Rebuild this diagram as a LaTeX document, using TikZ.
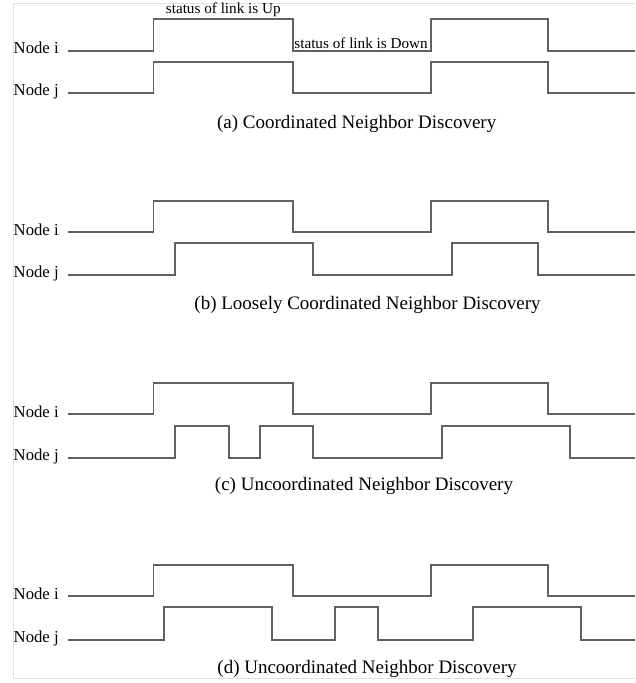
\documentclass[tikz,border=0pt]{standalone}
\usepackage{fontspec}
\setmainfont{Liberation Serif}
\begin{document}
\begin{tikzpicture}[x=1pt,y=-1pt,
  signal/.style={draw=black!62, line width=1.7pt, line join=miter},
  frameline/.style={draw=black!12, line width=1pt},
  nodelabel/.style={anchor=base west, inner sep=0pt, font=\fontsize{16.7}{18}\selectfont},
  statuslabel/.style={inner sep=0pt, font=\fontsize{15.2}{16}\selectfont},
  caption/.style={anchor=base, inner sep=0pt, font=\fontsize{19}{21}\selectfont}]
\useasboundingbox (0,0) rectangle (635,683);

% light frame around the figure
\draw[frameline] (635,3.3) -- (13.3,3.3) -- (13.3,678) -- (635,678);

% waveform: #1 low level, #2 high level, #3 list of rise/fall pairs
\newcommand\linkwave[3]{%
  \draw[signal] (68,#1) \foreach \r/\f in {#3} { -| (\r,#2) -| (\f,#1) } -- (635,#1);}

% (a) coordinated
\linkwave{50.7}{19}{153.5/292.7, 430.7/548.3}
\linkwave{93}{61.7}{153.5/292.7, 430.7/548.3}
\node[nodelabel] (ai) at (13.5,53.5) {Node i};
\node[nodelabel] (aj) at (13.5,95.5) {Node j};
\node[statuslabel, anchor=base] (up) at (223.3,13.3) {status of link is Up};
\node[statuslabel, anchor=base east] (down) at (428,48.3) {status of link is Down};
\node[caption] (capa) at (356.7,128) {(a) Coordinated Neighbor Discovery};

% (b) loosely coordinated
\linkwave{232.3}{200.7}{153.5/292.7, 430.7/548.3}
\linkwave{275.3}{243.3}{175.3/313.3, 452.3/537.7}
\node[nodelabel] (bi) at (13.5,235) {Node i};
\node[nodelabel] (bj) at (13.5,277.8) {Node j};
\node[caption] (capb) at (367.5,309.3) {(b) Loosely Coordinated Neighbor Discovery};

% (c) uncoordinated
\linkwave{414.3}{382.7}{153.5/292.7, 430.7/548.3}
\linkwave{457.7}{425.7}{175.3/228.7, 260/313.3, 441.7/570}
\node[nodelabel] (ci) at (13.5,417) {Node i};
\node[nodelabel] (cj) at (13.5,460.2) {Node j};
\node[caption] (capc) at (364,490) {(c) Uncoordinated Neighbor Discovery};

% (d) uncoordinated
\linkwave{596.3}{565}{153.5/292.7, 430.7/548.3}
\linkwave{639.7}{607.3}{164/271.7, 335/377.7, 473.3/580.7}
\node[nodelabel] (di) at (13.5,599) {Node i};
\node[nodelabel] (dj) at (13.5,642.2) {Node j};
\node[caption] (capd) at (367,673.7) {(d) Uncoordinated Neighbor Discovery};
\end{tikzpicture}
\end{document}
